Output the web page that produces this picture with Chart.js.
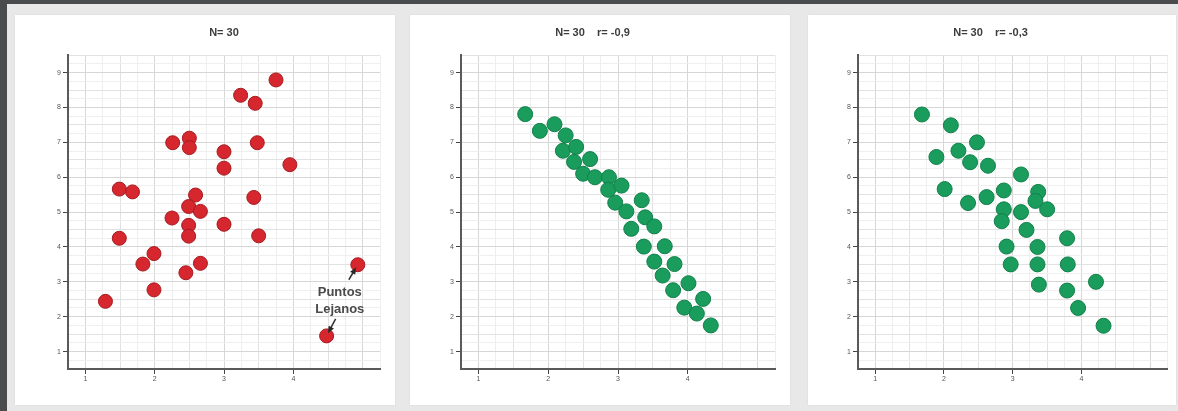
<!DOCTYPE html>
<html>
<head>
<meta charset="utf-8">
<script src="https://cdn.jsdelivr.net/npm/chart.js@4.4.1/dist/chart.umd.min.js"></script>
<style>
    html, body { margin: 0; padding: 0; }
    body {
        width: 1178px; height: 411px; overflow: hidden; position: relative;
        background: #4a4b4d;
        font-family: "Liberation Sans", Arial, sans-serif;
    }
    #frame { position: absolute; left: 7px; top: 4px; right: 0; bottom: 0; background: #e8e8e8; }
    .panel {
        position: absolute; top: 15px; height: 390px; background: #fff;
        box-shadow: 0 0 2px rgba(0, 0, 0, 0.08);
    }
    .panel canvas { display: block; }
</style>
</head>
<body>
<div id="frame"></div>
<div class="panel" style="left:15px;width:380px"><canvas id="chartA" width="380" height="390"></canvas></div>
<div class="panel" style="left:410px;width:380px"><canvas id="chartB" width="380" height="390"></canvas></div>
<div class="panel" style="left:808px;width:368px"><canvas id="chartC" width="368" height="390"></canvas></div>

<script>
// títulos de cada panel
const titles = ['N= 30', 'N= 30    r= -0,9', 'N= 30    r= -0,3'];

// etiquetas de los ejes
const xTickLabels = [1, 2, 3, 4];
const yTickLabels = [1, 2, 3, 4, 5, 6, 7, 8, 9];

// panel 1 (rojo)
const redX = [1.29, 1.49, 1.68, 1.49, 1.83, 1.99, 1.99, 2.26, 2.50, 2.50,
              2.59, 2.49, 2.66, 2.25, 2.49, 2.49, 2.66, 2.45, 3.00, 3.00,
              3.00, 3.24, 3.45, 3.75, 3.48, 3.95, 3.43, 3.50, 4.93, 4.48];
const redY = [2.44, 5.66, 5.58, 4.25, 3.51, 3.81, 2.77, 6.99, 7.12, 6.85,
              5.49, 5.16, 5.02, 4.83, 4.62, 4.31, 3.53, 3.26, 6.73, 6.26,
              4.65, 8.35, 8.12, 8.79, 6.99, 6.36, 5.42, 4.32, 3.49, 1.45];

// panel 2 (verde, r = -0,9)
const greenBX = [1.67, 1.88, 2.09, 2.25, 2.21, 2.40, 2.37, 2.60, 2.50, 2.67,
                 2.87, 2.86, 3.05, 2.96, 3.12, 3.34, 3.19, 3.39, 3.52, 3.37,
                 3.67, 3.52, 3.81, 3.64, 3.79, 4.01, 3.95, 4.13, 4.22, 4.33];
const greenBY = [7.81, 7.33, 7.52, 7.20, 6.76, 6.87, 6.44, 6.52, 6.10, 6.00,
                 6.00, 5.64, 5.76, 5.27, 5.02, 5.34, 4.52, 4.85, 4.59, 4.01,
                 4.02, 3.58, 3.51, 3.18, 2.76, 2.96, 2.26, 2.09, 2.51, 1.75];

// panel 3 (verde, r = -0,3)
const greenCX = [1.68, 2.10, 1.89, 2.21, 2.48, 2.38, 2.64, 2.01, 2.35, 2.62,
                 2.87, 3.12, 3.37, 3.33, 3.50, 2.87, 3.12, 2.84, 3.20, 2.91,
                 3.36, 3.79, 2.97, 3.36, 3.80, 3.38, 3.79, 4.21, 3.95, 4.32];
const greenCY = [7.80, 7.49, 6.58, 6.76, 7.00, 6.43, 6.33, 5.66, 5.26, 5.43,
                 5.62, 6.08, 5.58, 5.32, 5.08, 5.08, 5.00, 4.74, 4.49, 4.01,
                 4.00, 4.25, 3.50, 3.50, 3.50, 2.92, 2.75, 3.00, 2.25, 1.74];

function toPoints(xs, ys) {
    return xs.map((x, i) => ({ x: x, y: ys[i] }));
}

function isInt(v) {
    return Math.abs(v - Math.round(v)) < 1e-6;
}

function gridColor(ctx) {
    const v = ctx.tick.value;
    if (isInt(v)) return '#d6d6d6';
    if (isInt(v * 2)) return '#e2e2e2';
    return '#efefef';
}

function makeScales(yWidth) {
    return {
        x: {
            type: 'linear', min: 0.75, max: 5.25,
            afterFit: s => { s.height = 36; },
            ticks: {
                stepSize: 0.25, autoSkip: false, maxRotation: 0, padding: 1,
                color: '#555', font: { size: 7 },
                callback: v => xTickLabels.includes(Math.round(v)) && isInt(v) ? String(Math.round(v)) : ''
            },
            grid: {
                color: gridColor, tickLength: 5,
                tickColor: c => (isInt(c.tick.value) && xTickLabels.includes(Math.round(c.tick.value))) ? '#444' : 'rgba(0,0,0,0)'
            },
            border: { color: '#5a5a5a', width: 2 }
        },
        y: {
            type: 'linear', min: 0.5, max: 9.5,
            afterFit: s => { s.width = yWidth; },
            ticks: {
                stepSize: 0.25, autoSkip: false, padding: 2,
                color: '#555', font: { size: 7 },
                callback: v => isInt(v) && yTickLabels.includes(Math.round(v)) ? String(Math.round(v)) : ''
            },
            grid: {
                color: gridColor, tickLength: 5,
                tickColor: c => (isInt(c.tick.value) && yTickLabels.includes(Math.round(c.tick.value))) ? '#444' : 'rgba(0,0,0,0)'
            },
            border: { color: '#5a5a5a', width: 2 }
        }
    };
}

// texto "Puntos Lejanos" con flechas hacia los dos puntos alejados
const farLabelPlugin = {
    id: 'farLabel',
    afterDatasetsDraw(chart) {
        const ctx = chart.ctx;
        const xs = chart.scales.x, ys = chart.scales.y;
        ctx.save();
        ctx.fillStyle = '#4a4a4a';
        ctx.font = 'bold 13px "Liberation Sans", Arial, sans-serif';
        ctx.textAlign = 'center';
        ctx.textBaseline = 'middle';
        ctx.fillText('Puntos', xs.getPixelForValue(4.67), ys.getPixelForValue(2.71));
        ctx.fillText('Lejanos', xs.getPixelForValue(4.67), ys.getPixelForValue(2.2));

        const arrows = [[4.80, 3.06, 28], [4.61, 1.94, 29]];
        arrows.forEach(a => {
            const sx = xs.getPixelForValue(a[0]), sy = ys.getPixelForValue(a[1]);
            const px = xs.getPixelForValue(redX[a[2]]), py = ys.getPixelForValue(redY[a[2]]);
            const dx = px - sx, dy = py - sy, len = Math.hypot(dx, dy);
            const ux = dx / len, uy = dy / len;
            const ex = px - ux * 3, ey = py - uy * 3;
            ctx.strokeStyle = '#333';
            ctx.lineWidth = 1.5;
            ctx.beginPath();
            ctx.moveTo(sx, sy);
            ctx.lineTo(ex - ux * 4, ey - uy * 4);
            ctx.stroke();
            ctx.fillStyle = '#2a2a2a';
            ctx.beginPath();
            ctx.moveTo(ex, ey);
            ctx.lineTo(ex - ux * 7 - uy * 3, ey - uy * 7 + ux * 3);
            ctx.lineTo(ex - ux * 7 + uy * 3, ey - uy * 7 - ux * 3);
            ctx.closePath();
            ctx.fill();
        });
        ctx.restore();
    }
};

function makeChart(id, title, points, fill, stroke, radius, yWidth, rightPad, titleOverArea, plugins) {
    return new Chart(document.getElementById(id), {
        type: 'scatter',
        data: {
            datasets: [{
                data: points,
                backgroundColor: fill,
                borderColor: stroke,
                borderWidth: 1,
                pointRadius: radius,
                pointHoverRadius: radius
            }]
        },
        options: {
            responsive: false,
            animation: false,
            layout: { padding: { left: 0, right: rightPad, top: 0, bottom: 0 } },
            scales: makeScales(yWidth),
            plugins: {
                legend: { display: false },
                tooltip: { enabled: false },
                title: {
                    display: true, text: title, color: '#3c3c3c',
                    fullSize: !titleOverArea,
                    font: { size: 11, weight: 'bold' },
                    padding: { top: 11, bottom: 16 }
                }
            }
        },
        plugins: plugins || []
    });
}

document.addEventListener('DOMContentLoaded', function() {
    makeChart('chartA', titles[0], toPoints(redX, redY), '#d6262e', '#a51b21', 7, 53, 15, true, [farLabelPlugin]);
    makeChart('chartB', titles[1], toPoints(greenBX, greenBY), '#1a9c5c', '#12804a', 7.5, 51, 15, false);
    makeChart('chartC', titles[2], toPoints(greenCX, greenCY), '#1a9c5c', '#12804a', 7.5, 50, 3, false);
});
</script>
</body>
</html>
